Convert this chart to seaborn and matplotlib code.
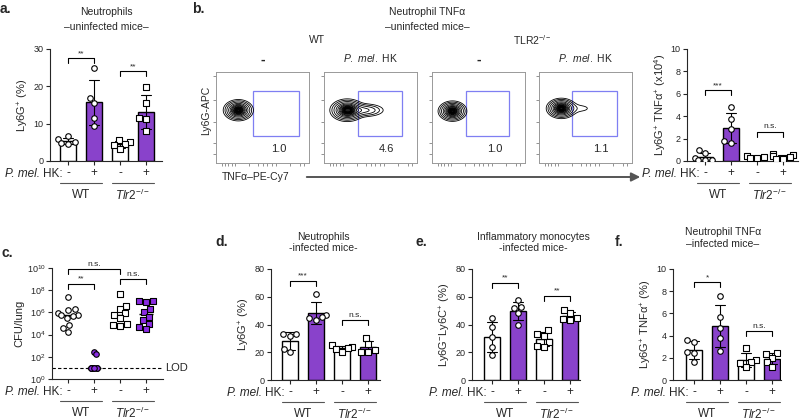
import numpy as np
import pandas as pd
import seaborn as sns
import matplotlib.pyplot as plt
import matplotlib.transforms as mtransforms
from matplotlib.patches import Rectangle, FancyArrowPatch

sns.set_theme(style='ticks')
plt.rcParams['font.family'] = ['Liberation Sans', 'DejaVu Sans']
plt.rcParams['mathtext.fontset'] = 'custom'
plt.rcParams['mathtext.rm'] = 'Liberation Sans'
plt.rcParams['mathtext.it'] = 'Liberation Sans:italic'
plt.rcParams['mathtext.bf'] = 'Liberation Sans:bold'
plt.rcParams['axes.linewidth'] = 0.8

PURPLE = '#8a2be2'
W, H = 800, 420

# ---- data ----
groups = ['WT-', 'WT+', 'Tlr2-', 'Tlr2+']
treat_labels = ['-', '+', '-', '+']
genotype_labels = ['WT', r'$\it{Tlr2}^{-/-}$']

# a. neutrophils, uninfected (% Ly6G+)
a_wt_ctrl = [6.6, 5.8, 5.2, 4.9, 4.6]
a_wt_hk = [25.0, 17.0, 15.5, 11.5, 9.5]
a_tlr_ctrl = [5.6, 5.0, 4.5, 4.2, 3.2]
a_tlr_hk = [19.8, 15.5, 11.5, 11.3, 8.0]
a_sig = [(0, 1, 27.5, '**'), (2, 3, 24.0, '**')]

# b. flow plots + Ly6G+ TNFa+ counts (x10^4)
flow_conditions = ['-', 'P. mel. HK', '-', 'P. mel. HK']
flow_gate_pct = ['1.0', '4.6', '1.0', '1.1']
flow_center_x = [0.24, 0.25, 0.22, 0.24]
flow_center_y = [0.58, 0.58, 0.57, 0.60]
flow_spread_x = [0.065, 0.075, 0.062, 0.065]
flow_spread_y = [0.047, 0.05, 0.045, 0.045]
flow_tail = [0.0, 0.3, 0.0, 0.06]
b_wt_ctrl = [0.95, 0.7, 0.3, 0.1, 0.1, 0.1]
b_wt_hk = [4.8, 3.75, 2.9, 1.8, 1.6]
b_tlr_ctrl = [0.45, 0.35, 0.3, 0.3]
b_tlr_hk = [0.6, 0.5, 0.45, 0.35, 0.2, 0.15]
b_sig = [(0, 1, 6.3, '***'), (2, 3, 2.6, 'n.s.')]

# c. CFU per lung
c_wt_ctrl = [2.5e7, 2e6, 1.6e6, 8e5, 6e5, 6e5, 5e5, 3e5, 8e4, 4e4, 1.6e4]
c_wt_hk = [300, 180, 10, 10, 10, 10, 10, 10, 10, 10]
c_tlr_ctrl = [5e7, 4e6, 2e6, 8e5, 6e5, 3e5, 1e5, 8e4, 6e4]
c_tlr_hk = [1e7, 1e7, 8e6, 2e6, 1e6, 4e5, 2e5, 1e5, 5e4, 3e4]
lod_cfu = 10
c_sig = [(0, 2, 8e9, 'n.s.'), (0, 1, 4e8, '**'), (2, 3, 1e9, 'n.s.')]

# d. neutrophils, infected
d_wt_ctrl = [33.5, 32.8, 31.5, 22.0, 20.0]
d_wt_hk = [62.0, 46.5, 45.5, 44.5, 43.0]
d_tlr_ctrl = [25.0, 24.0, 23.0, 22.5, 20.5]
d_tlr_hk = [30.5, 26.0, 21.5, 20.5, 20.5]
d_sig = [(0, 1, 71.5, '***'), (2, 3, 43.0, 'n.s.')]

# e. inflammatory monocytes, infected
e_wt_ctrl = [44.5, 38.0, 31.0, 23.5, 18.0]
e_wt_hk = [57.5, 52.5, 52.0, 48.0, 40.0]
e_tlr_ctrl = [36.0, 33.0, 32.0, 27.5, 24.5, 24.0]
e_tlr_hk = [50.5, 48.5, 44.5, 44.0, 43.5]
e_sig = [(0, 1, 70.0, '**'), (2, 3, 60.5, '**')]

# f. neutrophil TNFa, infected
f_wt_ctrl = [3.6, 3.4, 2.55, 2.4, 1.6]
f_wt_hk = [7.6, 5.7, 4.7, 3.75, 2.6]
f_tlr_ctrl = [2.9, 1.8, 1.6, 1.5, 1.2]
f_tlr_hk = [2.4, 2.35, 2.0, 1.6, 1.2]
f_sig = [(0, 1, 8.8, '*'), (2, 3, 4.4, 'n.s.')]


def rect(l, t, r, b):
    return [l / W, 1 - b / H, (r - l) / W, (b - t) / H]


def make_df(values):
    return pd.DataFrame({'group': np.repeat(groups, [len(v) for v in values]),
                         'value': np.concatenate(values)})


def bracket(ax, x1, x2, y, label):
    ydisp = ax.transData.transform((0, y))[1]
    ylow = ax.transData.inverted().transform((0, ydisp - 5))[1]
    ax.plot([x1, x1, x2, x2], [ylow, y, y, ylow], color='black', lw=0.8, clip_on=False)
    ax.annotate(label, xy=((x1 + x2) / 2, y), xytext=(0, 1), textcoords='offset points',
                ha='center', va='bottom', fontsize=6)


def style_axis(ax, first_px, left_px, width_px):
    lo = -(first_px - left_px) / 26.0
    ax.set_xlim(lo, lo + width_px / 26.0)
    sns.despine(ax=ax)
    ax.set_xticks(range(4))
    ax.set_xticklabels(treat_labels, fontsize=8.5)
    ax.set_xlabel('')
    ax.tick_params(axis='x', length=3, width=0.8, pad=1.5)
    ax.tick_params(axis='y', length=3, width=0.8, pad=1.5, labelsize=6.5)
    # "P. mel. HK:" = italic species + plain text
    renderer = ax.figure.canvas.get_renderer()
    hk = ax.annotate('HK:', xy=(-0.22, 0), xycoords=('data', 'axes fraction'),
                     xytext=(0, -13), textcoords='offset pixels', ha='right', va='center',
                     fontsize=8.5, annotation_clip=False)
    w = hk.get_window_extent(renderer).width
    ax.annotate('P. mel.', xy=(-0.22, 0), xycoords=('data', 'axes fraction'),
                xytext=(-w - 3, -13), textcoords='offset pixels', ha='right', va='center',
                fontsize=8.5, fontstyle='italic', annotation_clip=False)
    blend = mtransforms.blended_transform_factory(ax.transData, ax.transAxes)
    line_tr = mtransforms.offset_copy(blend, fig=ax.figure, y=-22, units='dots')
    for x0, x1 in [(-0.3, 1.3), (1.7, 3.3)]:
        ax.plot([x0, x1], [0, 0], transform=line_tr, color='#555555', lw=0.8, clip_on=False)
    for xc, lab in zip([0.5, 2.5], genotype_labels):
        ax.annotate(lab, xy=(xc, 0), xycoords=('data', 'axes fraction'), xytext=(0, -34),
                    textcoords='offset pixels', ha='center', va='center', fontsize=8.5,
                    annotation_clip=False)


def bar_panel(ax, values, ylim, yticks, ylabel, sig, first_px, left_px, width_px):
    df = make_df(values)
    sns.barplot(data=df, x='group', y='value', order=groups, hue='group', hue_order=groups,
                palette=dict(zip(groups, ['white', PURPLE, 'white', PURPLE])),
                errorbar='sd', capsize=0.35, err_kws={'color': 'black', 'linewidth': 0.8},
                edgecolor='black', linewidth=1.0, width=0.65, legend=False, ax=ax)
    for g, m in zip(groups, ['o', 'o', 's', 's']):
        sns.swarmplot(data=df[df['group'] == g], x='group', y='value', order=groups,
                      marker=m, color='white', edgecolor='black', linewidth=0.8, size=4.0,
                      warn_thresh=1, ax=ax)
    ax.set_ylim(*ylim)
    ax.set_yticks(yticks)
    ax.set_ylabel(ylabel, fontsize=8, labelpad=2)
    style_axis(ax, first_px, left_px, width_px)
    for i, j, y, lab in sig:
        bracket(ax, i, j, y, lab)


fig = plt.figure(figsize=(8, 4.2), dpi=100)

# ---- a ----
ax_a = fig.add_axes(rect(50, 49, 162, 161))
bar_panel(ax_a, [a_wt_ctrl, a_wt_hk, a_tlr_ctrl, a_tlr_hk], (0, 30), [0, 10, 20, 30],
          'Ly6G$^{+}$ (%)', a_sig, 68, 50, 112)
fig.text(106 / W, 1 - 12 / H, 'Neutrophils', ha='center', va='center', fontsize=7.5)
fig.text(106 / W, 1 - 27 / H, '–uninfected mice–', ha='center', va='center', fontsize=7.5)

# ---- b: flow plots ----
flow_left = [216, 324, 432, 539]
gate_x0 = [0.40, 0.37, 0.37, 0.36]
gate_x1 = [0.89, 0.84, 0.83, 0.84]
ring_r = np.array([2.5, 2.2, 1.9, 1.6, 1.35, 1.15, 1.0, 0.85, 0.72, 0.6, 0.5, 0.4, 0.3, 0.2])
xx, yy = np.meshgrid(np.linspace(0, 1, 300), np.linspace(0, 1, 300))
for k, l in enumerate(flow_left):
    ax = fig.add_axes(rect(l, 72, l + 93, 163))
    z = np.exp(-((xx - flow_center_x[k]) ** 2 / (2 * flow_spread_x[k] ** 2)
                 + (yy - flow_center_y[k]) ** 2 / (2 * flow_spread_y[k] ** 2)))
    z = z + flow_tail[k] * np.exp(-((xx - 0.44) ** 2 / (2 * 0.1 ** 2)
                                    + (yy - flow_center_y[k]) ** 2 / (2 * 0.035 ** 2)))
    levels = np.sort(np.exp(-ring_r ** 2 / 2))
    ax.contourf(xx, yy, z, levels=[levels[-6], levels[-3], 10], colors=['#555555', '#222222'])
    ax.contour(xx, yy, z, levels=levels, colors='black', linewidths=0.6)
    ax.add_patch(Rectangle((gate_x0[k], 0.30), gate_x1[k] - gate_x0[k], 0.49,
                           fill=False, edgecolor='#7f7ff2', lw=0.9))
    ax.text(0.67, 0.15, flow_gate_pct[k], ha='center', va='center', fontsize=8)
    ax.set_xlim(0, 1)
    ax.set_ylim(0, 1)
    ax.set_xticks([0.06, 0.1, 0.13, 0.17, 0.2, 0.35, 0.45, 0.5, 0.55, 0.6, 0.64, 0.8, 0.9, 0.95])
    ax.set_yticks([0.1, 0.22, 0.45, 0.69, 0.96])
    ax.set_xticklabels([])
    ax.set_yticklabels([])
    ax.tick_params(length=2, width=0.5, color='#666666')
    for s in ax.spines.values():
        s.set_color('#999999')
        s.set_linewidth(0.7)
    cx = (l + 46.5) / W
    if flow_conditions[k] == '-':
        fig.text(cx, 1 - 60 / H, '-', ha='center', va='center', fontsize=10, fontweight='bold')
    else:
        fig.text(cx, 1 - 58 / H, r'$\it{P.\ mel.}$ HK', ha='center', va='center', fontsize=7.5)

fig.text(317 / W, 1 - 40 / H, 'WT', ha='center', va='center', fontsize=7.5)
fig.text(532 / W, 1 - 40 / H, 'TLR2$^{-/-}$', ha='center', va='center', fontsize=7.5)
fig.text(427 / W, 1 - 12 / H, 'Neutrophil TNFα', ha='center', va='center', fontsize=7.5)
fig.text(427 / W, 1 - 27 / H, '–uninfected mice–', ha='center', va='center', fontsize=7.5)
fig.text(206 / W, 1 - 110 / H, 'Ly6G-APC', ha='center', va='center', rotation=90, fontsize=7.5)
fig.text(222 / W, 1 - 177 / H, 'TNFα–PE-Cy7', ha='left', va='center', fontsize=7.5)
fig.add_artist(FancyArrowPatch((304 / W, 1 - 177 / H), (643 / W, 1 - 177 / H),
                               transform=fig.transFigure, arrowstyle='-|>',
                               mutation_scale=13, lw=1.4, color='#555555'))

ax_b = fig.add_axes(rect(687, 49, 798, 161))
bar_panel(ax_b, [b_wt_ctrl, b_wt_hk, b_tlr_ctrl, b_tlr_hk], (0, 10), [0, 2, 4, 6, 8, 10],
          'Ly6G$^{+}$ TNFα$^{+}$ (x10$^{4}$)', b_sig, 705, 687, 111)

# ---- c ----
ax_c = fig.add_axes(rect(52, 268, 163, 379))
ax_c.set_yscale('log')
ax_c.set_ylim(1, 1e10)
df_c = make_df([c_wt_ctrl, c_wt_hk, c_tlr_ctrl, c_tlr_hk])
med = df_c.groupby('group')['value'].median()
for i, g in enumerate(groups):
    ax_c.hlines(med[g], i - 0.28, i + 0.28, color='black', lw=1.0, zorder=1)
np.random.seed(3)
for g, m, c in zip(groups, ['o', 'o', 's', 's'], ['white', PURPLE, 'white', PURPLE]):
    sub = df_c[df_c['group'] == g]
    if g == 'WT+':
        # points piled on the LOD: narrow strip instead of a swarm
        sns.stripplot(data=sub, x='group', y='value', order=groups, jitter=0.14,
                      marker=m, color=c, edgecolor='black', linewidth=0.8, size=4.0, ax=ax_c)
    else:
        sns.swarmplot(data=sub, x='group', y='value', order=groups,
                      marker=m, color=c, edgecolor='black', linewidth=0.8, size=4.0,
                      warn_thresh=1, ax=ax_c)
ax_c.set_yscale('log')
ax_c.set_ylim(1, 1e10)
ax_c.set_yticks([1e0, 1e2, 1e4, 1e6, 1e8, 1e10])
ax_c.yaxis.set_minor_locator(plt.NullLocator())
ax_c.axhline(lod_cfu, ls='--', color='black', lw=0.8, dashes=(3, 2), zorder=0)
ax_c.text(1.02, lod_cfu, 'LOD', transform=mtransforms.blended_transform_factory(ax_c.transAxes, ax_c.transData),
          ha='left', va='center', fontsize=8)
ax_c.set_ylabel('CFU/lung', fontsize=8, labelpad=2)
style_axis(ax_c, 68, 52, 111)
for i, j, y, lab in c_sig:
    bracket(ax_c, i, j, y, lab)

# ---- d, e, f ----
ax_d = fig.add_axes(rect(271, 269, 380, 380))
bar_panel(ax_d, [d_wt_ctrl, d_wt_hk, d_tlr_ctrl, d_tlr_hk], (0, 80), [0, 20, 40, 60, 80],
          'Ly6G$^{+}$ (%)', d_sig, 290, 271, 109)
fig.text(323 / W, 1 - 237 / H, 'Neutrophils', ha='center', va='center', fontsize=7.5)
fig.text(323 / W, 1 - 248 / H, '-infected mice-', ha='center', va='center', fontsize=7.5)

ax_e = fig.add_axes(rect(472, 269, 580, 380))
bar_panel(ax_e, [e_wt_ctrl, e_wt_hk, e_tlr_ctrl, e_tlr_hk], (0, 80), [0, 20, 40, 60, 80],
          'Ly6G$^{-}$Ly6C$^{+}$ (%)', e_sig, 492, 472, 108)
fig.text(533 / W, 1 - 237 / H, 'Inflammatory monocytes', ha='center', va='center', fontsize=7.5)
fig.text(533 / W, 1 - 248 / H, '-infected mice-', ha='center', va='center', fontsize=7.5)

ax_f = fig.add_axes(rect(673, 269, 781, 380))
bar_panel(ax_f, [f_wt_ctrl, f_wt_hk, f_tlr_ctrl, f_tlr_hk], (0, 10), [0, 2, 4, 6, 8, 10],
          'Ly6G$^{+}$ TNFα$^{+}$ (%)', f_sig, 694, 673, 108)
fig.text(723 / W, 1 - 232 / H, 'Neutrophil TNFα', ha='center', va='center', fontsize=7.5)
fig.text(723 / W, 1 - 244 / H, '–infected mice–', ha='center', va='center', fontsize=7.5)

# panel letters
for lab, x, y in [('a.', 0, 9), ('b.', 192, 9), ('c.', 1, 253), ('d.', 215, 242),
                  ('e.', 415, 242), ('f.', 615, 242)]:
    fig.text(x / W, 1 - y / H, lab, ha='left', va='center', fontsize=10, fontweight='bold')

fig.savefig('out.png', dpi=100)
